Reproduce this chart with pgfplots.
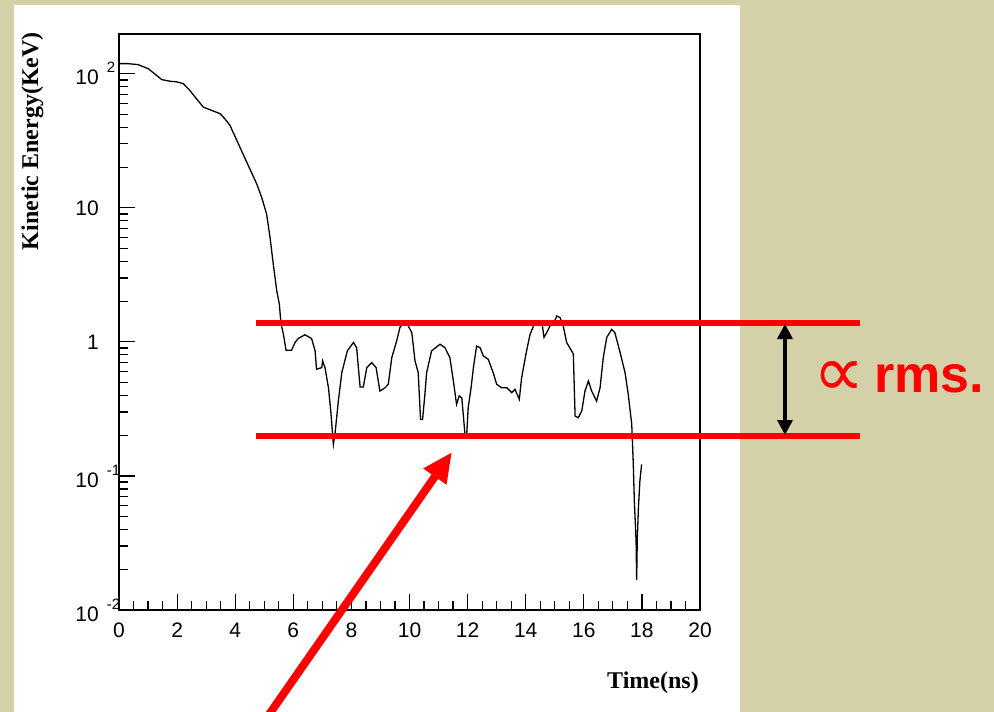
\documentclass[border=0pt]{standalone}
\usepackage{fontspec}
\setmainfont{Liberation Sans}
\newfontfamily\timesfont{Liberation Serif}
\newfontfamily\dejavu{DejaVu Sans}
\usepackage{pgfplots}
\pgfplotsset{compat=1.18}
\usetikzlibrary{arrows.meta}
\definecolor{bg}{RGB}{212,208,168}
\definecolor{rred}{RGB}{255,0,0}
\newcommand\supx[1]{\rlap{\hspace{8pt}\raisebox{12pt}{\fontsize{15}{15}\selectfont #1}}}
\begin{document}
\begin{tikzpicture}
\useasboundingbox (0,0) rectangle (994pt,-712pt);
\begin{scope}[x=1pt,y=-1pt]
\fill[bg] (0,0) rectangle (994,712);
\fill[white] (14,5) rectangle (740,712);
\end{scope}
\begin{axis}[
  at={(119pt,-610pt)}, anchor=south west,
  scale only axis, width=581pt, height=576pt,
  xmin=0, xmax=20, ymode=log, ymin=0.01, ymax=198,
  axis line style={line width=1.2pt, black},
  every tick/.style={black, line width=1.2pt},
  tick align=inside,
  xtick pos=left, ytick pos=left,
  major tick length=16pt, minor tick length=9pt,
  xtick={0,2,...,20}, minor x tick num=3,
  xticklabels={0,2,4,6,8,10,12,14,16,18,20},
  ytick={0.01,0.1,1,10,100},
  yticklabels={10\supx{-2},10\supx{-1},1,10,10\supx{2}},
  minor ytick={0.02,0.03,0.04,0.05,0.06,0.07,0.08,0.09,0.2,0.3,0.4,0.5,0.6,0.7,0.8,0.9,2,3,4,5,6,7,8,9,20,30,40,50,60,70,80,90},
  xticklabel style={font=\fontsize{21}{21}\selectfont, inner sep=0pt, anchor=north, yshift=-13pt},
  yticklabel style={font=\fontsize{21}{21}\selectfont, inner sep=0pt, anchor=east, xshift=-20pt},
]
\addplot[black, line width=1.3pt, sharp plot] coordinates {
(0.00,119) (0.30,119) (0.66,117) (1.01,109) (1.25,99) (1.47,90.5) (1.75,88) (1.99,87)
(2.21,84.5) (2.42,76) (2.62,67) (2.90,56.5) (3.19,53.3) (3.48,50.4) (3.65,46) (3.82,41.2)
(4.11,30) (4.45,20.7) (4.74,15.1) (4.91,12) (5.08,9.0) (5.20,6.0) (5.31,3.81) (5.43,2.41)
(5.52,1.91) (5.56,1.50) (5.60,1.30) (5.66,1.14) (5.75,0.867) (5.94,0.867) (6.06,0.99)
(6.17,1.06) (6.40,1.13) (6.63,1.06) (6.75,0.857) (6.80,0.625) (6.98,0.643) (7.01,0.721)
(7.09,0.643) (7.21,0.455) (7.29,0.305) (7.38,0.172) (7.44,0.210) (7.55,0.362) (7.67,0.590)
(7.86,0.857) (8.07,0.99) (8.18,0.906) (8.24,0.643) (8.30,0.461) (8.41,0.461) (8.53,0.643)
(8.70,0.70) (8.85,0.643) (8.98,0.430) (9.16,0.455) (9.27,0.483) (9.39,0.763) (9.56,1.02)
(9.67,1.28) (9.79,1.39) (9.90,1.39) (10.08,1.17) (10.19,0.72) (10.30,0.59) (10.38,0.264)
(10.45,0.264) (10.53,0.406) (10.59,0.59) (10.76,0.857) (11.05,0.96) (11.22,0.906)
(11.39,0.763) (11.51,0.511) (11.62,0.342) (11.71,0.395) (11.80,0.383) (11.85,0.288)
(11.91,0.204) (11.97,0.204) (12.02,0.323) (12.12,0.455) (12.20,0.643) (12.31,0.93)
(12.43,0.906) (12.54,0.786) (12.71,0.742) (12.88,0.59) (13.00,0.483) (13.17,0.455)
(13.35,0.455) (13.52,0.418) (13.63,0.443) (13.78,0.373) (13.86,0.541) (14.03,0.857)
(14.15,1.14) (14.26,1.30) (14.38,1.44) (14.55,1.44) (14.63,1.08) (14.72,1.17) (14.84,1.32)
(14.95,1.36) (15.07,1.56) (15.18,1.52) (15.29,1.32) (15.41,0.99) (15.58,0.857) (15.64,0.81)
(15.70,0.28) (15.81,0.272) (15.93,0.305) (16.04,0.43) (16.16,0.511) (16.27,0.43)
(16.44,0.362) (16.56,0.455) (16.67,0.763) (16.79,1.08) (16.96,1.24) (17.07,1.17)
(17.25,0.832) (17.42,0.59) (17.53,0.406) (17.65,0.243) (17.70,0.129) (17.74,0.0648)
(17.80,0.0325) (17.82,0.0168) (17.84,0.033) (17.88,0.0577) (17.93,0.0914) (17.99,0.122)
};
\end{axis}
\begin{scope}[x=1pt,y=-1pt]
% axis titles
\node[rotate=90, anchor=base east, inner sep=0pt, font=\timesfont\bfseries\fontsize{24}{24}\selectfont] at (38,32) {Kinetic Energy(KeV)};
\node[anchor=base east, inner sep=0pt, font=\timesfont\bfseries\fontsize{24}{24}\selectfont] at (699,688) {Time(ns)};
% red band lines
\draw[rred, line width=6pt] (256,322.5) -- (860,322.5);
\draw[rred, line width=6pt] (256,436) -- (860,436);
% black double arrow
\draw[black, line width=3.5pt, {Triangle[length=15pt,width=15pt]}-{Triangle[length=15pt,width=15pt]}] (785,324) -- (785,435);
% red arrow
\draw[rred, line width=8pt, -{Triangle[length=30pt,width=26pt]}] (268,716) -- (452,452);
% text
\node[rred, inner sep=0pt] at (839,379) {\dejavu\fontsize{72}{72}\selectfont ∝};
\node[rred, anchor=base west, inner sep=0pt] at (874,392) {\fontsize{52}{52}\selectfont\bfseries rms.};
\end{scope}
\end{tikzpicture}
\end{document}
